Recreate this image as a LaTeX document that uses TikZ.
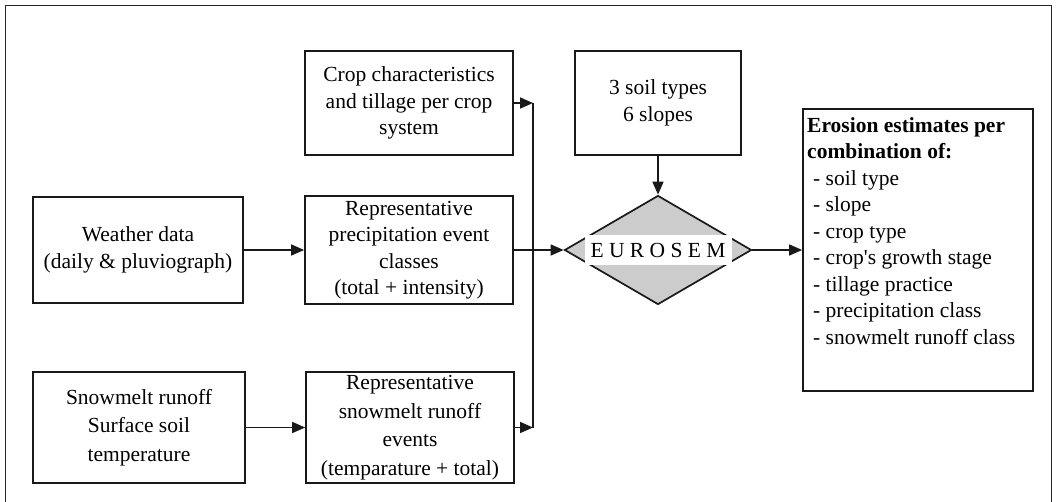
\documentclass[tikz,border=0pt]{standalone}
\usepackage{fontspec}
\setmainfont{Liberation Serif}
\usetikzlibrary{arrows.meta,shapes.geometric}
\begin{document}
\begin{tikzpicture}[x=1pt,y=-1pt,
  ink/.style={draw=black!90,line width=1.7pt},
  box/.style={ink,rectangle,inner sep=0pt,align=center,
    font=\fontsize{21.5}{26.5}\selectfont},
  widebox/.style={box,font=\fontsize{21.5}{28.5}\selectfont},
  arr/.style={draw=black!90,line width=1.6pt,-{Triangle[length=13pt,width=11pt]}},
  wire/.style={draw=black!90,line width=1.6pt}]
\useasboundingbox (0,0) rectangle (1059,502);

% outer frame, running past the lower edge
\begin{scope}
  \clip (0,0) rectangle (1059,502);
  \node[draw=black!85,line width=1.3pt,minimum width=1046pt,minimum height=530pt,
        inner sep=0pt,anchor=north west] (frame) at (5,5) {};
\end{scope}

% input boxes
\node[box,minimum width=208pt,minimum height=104pt] (crop) at (409,103)
  {Crop characteristics\\and tillage per crop\\system};
\node[box,minimum width=166pt,minimum height=104pt] (soil) at (658,103)
  {\raisebox{-3pt}{3 soil types}\\\raisebox{-3pt}{6 slopes}};
\node[box,minimum width=210pt,minimum height=106pt] (weather) at (138,250)
  {Weather data\\(daily \& pluviograph)};
\node[box,minimum width=208pt,minimum height=108pt] (precip) at (409,250)
  {Representative\\precipitation event\\classes\\(total + intensity)};
\node[widebox,minimum width=212pt,minimum height=111pt] (snow) at (139,427.5)
  {Snowmelt runoff\\Surface soil\\temperature};
\node[widebox,minimum width=208pt,minimum height=111pt] (repsnow) at (410,427.5)
  {Representative\\snowmelt runoff\\events\\(temparature + total)};

% model
\node[diamond,ink,fill=black!20,minimum width=187pt,minimum height=109pt,
      inner sep=0pt] (eurosem) at (658,250) {};
\node[fill=white,inner xsep=6pt,inner ysep=8pt,
      font=\fontsize{21.5}{24}\selectfont] (eurosemlabel) at (eurosem.center)
  {E U R O S E M};

% result
\node[ink,rectangle,minimum width=230pt,minimum height=282pt,inner sep=0pt]
  (result) at (918,250) {};
\node[anchor=north west,align=left,inner sep=0pt,
      font=\fontsize{21.5}{26.5}\selectfont] (resulttext) at (807,117)
  {\textbf{Erosion estimates per}\\
   \textbf{combination of:}\\
   \hspace*{6pt}- soil type\\
   \hspace*{6pt}- slope\\
   \hspace*{6pt}- crop type\\
   \hspace*{6pt}- crop\textquotesingle s growth stage\\
   \hspace*{6pt}- tillage practice\\
   \hspace*{6pt}- precipitation class\\
   \hspace*{6pt}- snowmelt runoff class};

% collecting line
\coordinate (busTop) at (533,103);
\coordinate (busMid) at (533,250);
\coordinate (busBot) at (533,427.5);

\draw[arr] (weather.east) -- (precip.west);
\draw[arr] (snow.east) -- (repsnow.west);
\draw[arr] (crop.east) -- (busTop);
\draw[arr] (repsnow.east) -- (busBot);
\draw[wire] (busTop) -- (busBot);
\draw[wire] (precip.east) -- (busMid);
\draw[arr] (busMid) -- (eurosem.west);
\draw[arr] (soil.south) -- (eurosem.north);
\draw[arr] (eurosem.east) -- (result.west);
\end{tikzpicture}
\end{document}
